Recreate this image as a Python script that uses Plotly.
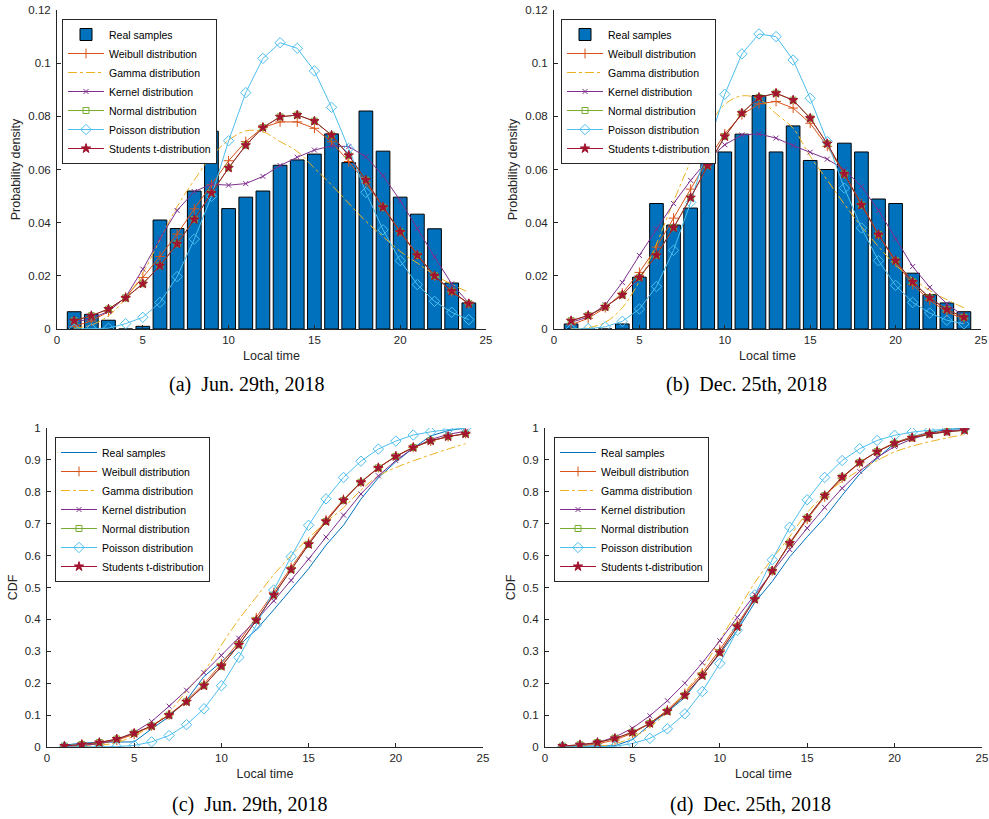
import plotly.graph_objects as go

# ---------------- data ----------------
hours = list(range(1, 25))

# (a) Jun. 29th, 2018 - PDF
a_real = [0.0065, 0.0055, 0.0033, 0.0, 0.0010, 0.0410, 0.0378, 0.0519, 0.0744, 0.0453, 0.0496, 0.0519,
          0.0616, 0.0636, 0.0658, 0.0734, 0.0626, 0.0820, 0.0669, 0.0496, 0.0432, 0.0377, 0.0173, 0.0098]
a_weibull = [0.0010, 0.0030, 0.0065, 0.0120, 0.0194, 0.0273, 0.0357, 0.0452, 0.0542, 0.0633, 0.0705, 0.0758,
             0.0779, 0.0779, 0.0755, 0.0704, 0.0630, 0.0550, 0.0460, 0.0367, 0.0280, 0.0200, 0.0140, 0.0095]
a_gamma = [0.0003, 0.0015, 0.0050, 0.0115, 0.0210, 0.0336, 0.0460, 0.0560, 0.0649, 0.0710, 0.0745, 0.0742,
           0.0705, 0.0668, 0.0605, 0.0542, 0.0473, 0.0405, 0.0348, 0.0292, 0.0248, 0.0204, 0.0168, 0.0138]
a_kernel = [0.0025, 0.0040, 0.0066, 0.0120, 0.0225, 0.0340, 0.0446, 0.0517, 0.0545, 0.0541, 0.0547, 0.0574,
            0.0615, 0.0646, 0.0673, 0.0689, 0.0686, 0.0648, 0.0577, 0.0483, 0.0378, 0.0271, 0.0170, 0.0098]
a_normal = [0.0031, 0.0050, 0.0075, 0.0117, 0.0170, 0.0238, 0.0320, 0.0412, 0.0511, 0.0606, 0.0691, 0.0758,
            0.0798, 0.0805, 0.0782, 0.0729, 0.0653, 0.0560, 0.0458, 0.0365, 0.0277, 0.0200, 0.0142, 0.0095]
a_poisson = [0.0000, 0.0001, 0.0003, 0.0020, 0.0044, 0.0100, 0.0197, 0.0338, 0.0499, 0.0708, 0.0889, 0.1018,
             0.1077, 0.1056, 0.0971, 0.0834, 0.0679, 0.0514, 0.0373, 0.0257, 0.0167, 0.0104, 0.0063, 0.0035]
a_student = [0.0031, 0.0050, 0.0075, 0.0117, 0.0170, 0.0238, 0.0320, 0.0412, 0.0511, 0.0606, 0.0691, 0.0758,
             0.0798, 0.0805, 0.0782, 0.0729, 0.0653, 0.0560, 0.0458, 0.0365, 0.0277, 0.0200, 0.0142, 0.0095]

# (b) Dec. 25th, 2018 - PDF
b_real = [0.0019, 0.0, 0.0, 0.0019, 0.0195, 0.0472, 0.0391, 0.0455, 0.0699, 0.0666, 0.0733, 0.0878,
          0.0666, 0.0764, 0.0634, 0.0600, 0.0699, 0.0666, 0.0489, 0.0472, 0.0210, 0.0129, 0.0098, 0.0065]
b_weibull = [0.0016, 0.0040, 0.0080, 0.0135, 0.0213, 0.0308, 0.0417, 0.0526, 0.0636, 0.0734, 0.0806, 0.0847,
             0.0856, 0.0831, 0.0774, 0.0687, 0.0583, 0.0471, 0.0355, 0.0252, 0.0167, 0.0108, 0.0064, 0.0038]
b_gamma = [0.0001, 0.0005, 0.0025, 0.0080, 0.0180, 0.0320, 0.0480, 0.0630, 0.0755, 0.0845, 0.0877, 0.0865,
           0.0810, 0.0755, 0.0650, 0.0560, 0.0470, 0.0385, 0.0310, 0.0240, 0.0190, 0.0145, 0.0110, 0.0080]
b_kernel = [0.0025, 0.0045, 0.0091, 0.0175, 0.0277, 0.0377, 0.0472, 0.0559, 0.0636, 0.0693, 0.0730, 0.0734,
            0.0718, 0.0690, 0.0665, 0.0639, 0.0599, 0.0536, 0.0446, 0.0338, 0.0235, 0.0157, 0.0095, 0.0048]
b_normal = [0.0031, 0.0051, 0.0083, 0.0128, 0.0194, 0.0277, 0.0381, 0.0494, 0.0614, 0.0724, 0.0812, 0.0871,
            0.0887, 0.0861, 0.0793, 0.0697, 0.0583, 0.0466, 0.0355, 0.0257, 0.0177, 0.0117, 0.0073, 0.0044]
b_poisson = [0.0000, 0.0001, 0.0008, 0.0029, 0.0075, 0.0160, 0.0296, 0.0476, 0.0686, 0.0883, 0.1035, 0.1110,
             0.1100, 0.1012, 0.0868, 0.0705, 0.0530, 0.0380, 0.0257, 0.0164, 0.0100, 0.0060, 0.0033, 0.0019]
b_student = [0.0031, 0.0051, 0.0083, 0.0128, 0.0194, 0.0277, 0.0381, 0.0494, 0.0614, 0.0724, 0.0812, 0.0871,
             0.0887, 0.0861, 0.0793, 0.0697, 0.0583, 0.0466, 0.0355, 0.0257, 0.0177, 0.0117, 0.0073, 0.0044]

# (c) Jun. 29th, 2018 - CDF
c_real = [0.006, 0.012, 0.015, 0.015, 0.016, 0.057, 0.095, 0.147, 0.221, 0.267, 0.316, 0.368,
          0.430, 0.493, 0.559, 0.633, 0.695, 0.777, 0.844, 0.894, 0.937, 0.975, 0.992, 1.000]
c_weibull = [0.001, 0.004, 0.010, 0.021, 0.040, 0.066, 0.101, 0.145, 0.198, 0.261, 0.330, 0.405,
             0.484, 0.563, 0.640, 0.712, 0.776, 0.831, 0.876, 0.912, 0.939, 0.959, 0.973, 0.983]
c_gamma = [0.000, 0.001, 0.005, 0.014, 0.035, 0.066, 0.110, 0.175, 0.237, 0.320, 0.400, 0.470,
           0.540, 0.600, 0.655, 0.705, 0.750, 0.805, 0.850, 0.876, 0.897, 0.916, 0.934, 0.951]
c_kernel = [0.002, 0.005, 0.011, 0.023, 0.046, 0.080, 0.128, 0.178, 0.233, 0.287, 0.341, 0.398,
            0.458, 0.522, 0.589, 0.658, 0.727, 0.793, 0.850, 0.898, 0.937, 0.964, 0.980, 0.990]
c_normal = [0.003, 0.008, 0.014, 0.025, 0.043, 0.066, 0.100, 0.142, 0.192, 0.253, 0.320, 0.397,
            0.476, 0.556, 0.635, 0.707, 0.773, 0.830, 0.875, 0.911, 0.939, 0.960, 0.973, 0.982]
c_poisson = [0.000, 0.000, 0.000, 0.001, 0.005, 0.016, 0.036, 0.070, 0.120, 0.192, 0.281, 0.382,
             0.492, 0.597, 0.695, 0.778, 0.845, 0.896, 0.934, 0.959, 0.978, 0.988, 0.995, 0.999]
c_student = [0.003, 0.008, 0.014, 0.025, 0.043, 0.066, 0.100, 0.142, 0.192, 0.253, 0.320, 0.397,
             0.476, 0.556, 0.635, 0.707, 0.773, 0.830, 0.875, 0.911, 0.939, 0.960, 0.973, 0.982]

# (d) Dec. 25th, 2018 - CDF
d_real = [0.002, 0.002, 0.002, 0.004, 0.023, 0.070, 0.110, 0.155, 0.225, 0.292, 0.365, 0.453,
          0.519, 0.596, 0.659, 0.719, 0.789, 0.856, 0.905, 0.952, 0.973, 0.986, 0.995, 1.000]
d_weibull = [0.001, 0.004, 0.010, 0.022, 0.043, 0.074, 0.116, 0.168, 0.232, 0.305, 0.384, 0.467,
             0.552, 0.636, 0.714, 0.784, 0.843, 0.891, 0.927, 0.954, 0.972, 0.984, 0.991, 0.995]
d_gamma = [0.000, 0.000, 0.002, 0.010, 0.030, 0.062, 0.110, 0.172, 0.245, 0.335, 0.425, 0.515,
           0.590, 0.660, 0.735, 0.790, 0.833, 0.868, 0.898, 0.925, 0.943, 0.957, 0.969, 0.980]
d_kernel = [0.002, 0.006, 0.014, 0.031, 0.059, 0.098, 0.145, 0.200, 0.264, 0.333, 0.406, 0.478,
            0.550, 0.619, 0.686, 0.751, 0.811, 0.864, 0.908, 0.942, 0.966, 0.981, 0.990, 0.995]
d_normal = [0.003, 0.007, 0.014, 0.027, 0.046, 0.074, 0.112, 0.162, 0.224, 0.296, 0.377, 0.463,
            0.552, 0.639, 0.718, 0.788, 0.846, 0.892, 0.926, 0.952, 0.969, 0.981, 0.988, 0.993]
d_poisson = [0.000, 0.000, 0.000, 0.002, 0.011, 0.027, 0.057, 0.104, 0.174, 0.262, 0.366, 0.477,
             0.587, 0.689, 0.775, 0.845, 0.898, 0.935, 0.961, 0.977, 0.987, 0.993, 0.996, 0.998]
d_student = [0.003, 0.007, 0.014, 0.027, 0.046, 0.074, 0.112, 0.162, 0.224, 0.296, 0.377, 0.463,
             0.552, 0.639, 0.718, 0.788, 0.846, 0.892, 0.926, 0.952, 0.969, 0.981, 0.988, 0.993]

series_names = ["Real samples", "Weibull distribution", "Gamma distribution", "Kernel distribution",
                "Normal distribution", "Poisson distribution", "Students t-distribution"]
captions = ["(a)\u00a0 Jun. 29th, 2018", "(b)\u00a0 Dec. 25th, 2018",
            "(c)\u00a0 Jun. 29th, 2018", "(d)\u00a0 Dec. 25th, 2018"]
pdf_ticks = [0, 0.02, 0.04, 0.06, 0.08, 0.1, 0.12]
pdf_ticktext = ["0", "0.02", "0.04", "0.06", "0.08", "0.1", "0.12"]
cdf_ticks = [0, 0.1, 0.2, 0.3, 0.4, 0.5, 0.6, 0.7, 0.8, 0.9, 1]
cdf_ticktext = ["0", "0.1", "0.2", "0.3", "0.4", "0.5", "0.6", "0.7", "0.8", "0.9", "1"]
x_ticks = [0, 5, 10, 15, 20, 25]

# ---------------- styling ----------------
W, H = 989, 819
BLUE = "#0072BD"; ORANGE = "#D95319"; YELLOW = "#EDB120"; PURPLE = "#7E2F8E"
GREEN = "#77AC30"; CYAN = "#4DBEEE"; RED = "#A2142F"; AX = "#262626"
SANS = "Liberation Sans, Arial, sans-serif"
SERIF = "Liberation Serif, Times New Roman, serif"

panels = [
    dict(kind="pdf", data=[a_real, a_weibull, a_gamma, a_kernel, a_normal, a_poisson, a_student],
         box=(57, 486, 10, 329), leg=(62, 19), ytitle="Probability density"),
    dict(kind="pdf", data=[b_real, b_weibull, b_gamma, b_kernel, b_normal, b_poisson, b_student],
         box=(554, 981, 10, 329), leg=(561, 19), ytitle="Probability density"),
    dict(kind="cdf", data=[c_real, c_weibull, c_gamma, c_kernel, c_normal, c_poisson, c_student],
         box=(47, 483, 428, 747), leg=(55, 437), ytitle="CDF"),
    dict(kind="cdf", data=[d_real, d_weibull, d_gamma, d_kernel, d_normal, d_poisson, d_student],
         box=(545, 982, 428, 747), leg=(554, 437), ytitle="CDF"),
]
caption_pos = [(247, 384), (746, 384), (250, 804), (750, 804)]

fig = go.Figure()
layout = dict(width=W, height=H, margin=dict(l=0, r=0, t=0, b=0),
              paper_bgcolor="white", plot_bgcolor="white",
              font=dict(family=SANS, size=11, color=AX), annotations=[])

line_styles = [
    None,
    dict(color=ORANGE, dash="solid", symbol="cross-thin-open", msize=7),
    dict(color=YELLOW, dash="dashdot", symbol=None, msize=0),
    dict(color=PURPLE, dash="solid", symbol="x-thin-open", msize=5),
    dict(color=GREEN, dash="solid", symbol="square-open", msize=6),
    dict(color=CYAN, dash="solid", symbol="diamond-open", msize=8),
    dict(color=RED, dash="solid", symbol="star", msize=7),
]

for i, p in enumerate(panels):
    k = "" if i == 0 else str(i + 1)
    xa, ya = "x" + k, "y" + k
    leg = "legend" + k
    l, r, t, b = p["box"]
    for j, (name, vals) in enumerate(zip(series_names, p["data"])):
        if j == 0:
            if p["kind"] == "pdf":
                fig.add_trace(go.Bar(x=hours, y=vals, name=name, width=0.8,
                                     marker=dict(color=BLUE, line=dict(color="black", width=1)),
                                     xaxis=xa, yaxis=ya, legend=leg))
            else:
                fig.add_trace(go.Scatter(x=hours, y=vals, name=name, mode="lines",
                                         line=dict(color=BLUE, width=1),
                                         xaxis=xa, yaxis=ya, legend=leg))
            continue
        s = line_styles[j]
        if s["symbol"] is None:
            fig.add_trace(go.Scatter(x=hours, y=vals, name=name, mode="lines",
                                     line=dict(color=s["color"], width=1, dash=s["dash"],
                                               shape="spline"),
                                     xaxis=xa, yaxis=ya, legend=leg))
        else:
            mk = dict(symbol=s["symbol"], size=s["msize"], color=s["color"],
                      line=dict(color=s["color"], width=1))
            fig.add_trace(go.Scatter(x=hours, y=vals, name=name, mode="lines+markers",
                                     line=dict(color=s["color"], width=1),
                                     marker=mk, xaxis=xa, yaxis=ya, legend=leg))
    common = dict(showline=True, linecolor=AX, linewidth=1, ticks="inside", ticklen=4,
                  tickcolor=AX, tickwidth=1, showgrid=False, zeroline=False, mirror=False,
                  automargin=False, tickfont=dict(family=SANS, size=11.5, color=AX))
    layout["xaxis" + k] = dict(common, domain=[l / W, r / W], anchor=ya, range=[0, 25],
                               tickvals=x_ticks,
                               title=dict(text="Local time", standoff=6,
                                          font=dict(family=SANS, size=12.5, color=AX)))
    if p["kind"] == "pdf":
        yr, tv, tt = [0, 0.12], pdf_ticks, pdf_ticktext
    else:
        yr, tv, tt = [0, 1], cdf_ticks, cdf_ticktext
    layout["yaxis" + k] = dict(common, domain=[1 - b / H, 1 - t / H], anchor=xa, range=yr,
                               tickvals=tv, ticktext=tt, ticklabelstandoff=3,
                               title=dict(text=p["ytitle"], standoff=4,
                                          font=dict(family=SANS, size=12.5, color=AX)))
    lx, ly = p["leg"]
    layout[leg] = dict(x=lx / W, y=1 - ly / H, xanchor="left", yanchor="top",
                       xref="paper", yref="paper",
                       bgcolor="white", bordercolor=AX, borderwidth=1,
                       font=dict(family=SANS, size=10.5, color="black"),
                       itemwidth=36, tracegroupgap=0)
    cx, cy = caption_pos[i]
    layout["annotations"].append(dict(text=captions[i], x=cx / W, y=1 - cy / H,
                                      xref="paper", yref="paper", showarrow=False,
                                      xanchor="center", yanchor="middle",
                                      font=dict(family=SERIF, size=20, color="black")))

layout["showlegend"] = True
fig.update_layout(**layout)
fig.write_html("out.html")
